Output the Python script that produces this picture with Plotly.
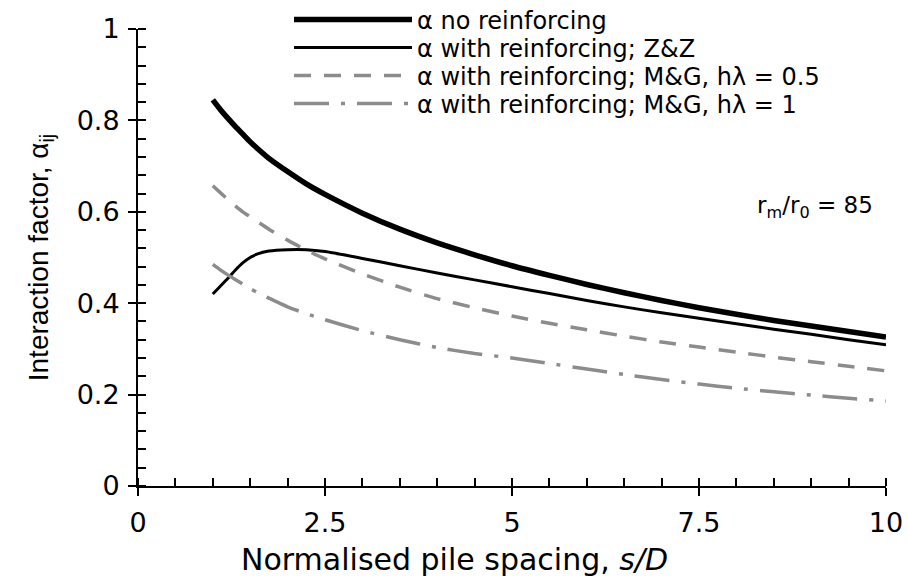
import plotly.graph_objects as go

# ---- data ----
s_over_d = [1, 1.1, 1.2, 1.3, 1.4, 1.5, 1.6, 1.75, 2, 2.25, 2.5, 3, 3.5, 4, 4.5, 5, 5.5, 6, 6.5, 7,
            7.5, 8, 8.5, 9, 9.5, 10]
alpha_no_reinf = [0.845, 0.824, 0.805, 0.787, 0.770, 0.753, 0.738, 0.717, 0.688, 0.661, 0.638, 0.597,
                  0.562, 0.532, 0.506, 0.482, 0.461, 0.441, 0.423, 0.406, 0.390, 0.376, 0.362, 0.350,
                  0.338, 0.326]
alpha_zz = [0.420, 0.437, 0.454, 0.472, 0.488, 0.500, 0.508, 0.514, 0.517, 0.517, 0.513, 0.498,
            0.482, 0.466, 0.451, 0.436, 0.421, 0.406, 0.392, 0.379, 0.367, 0.355, 0.343, 0.332,
            0.320, 0.309]
alpha_mg_05 = [0.657, 0.642, 0.627, 0.613, 0.600, 0.589, 0.578, 0.562, 0.538, 0.516, 0.497, 0.464,
               0.435, 0.410, 0.390, 0.372, 0.356, 0.342, 0.328, 0.315, 0.304, 0.293, 0.282, 0.272,
               0.262, 0.252]
alpha_mg_1 = [0.485, 0.473, 0.462, 0.452, 0.442, 0.432, 0.423, 0.411, 0.392, 0.377, 0.364, 0.340,
              0.320, 0.303, 0.290, 0.280, 0.268, 0.256, 0.244, 0.233, 0.223, 0.214, 0.206, 0.199,
              0.192, 0.186]

series_names = ["α no reinforcing",
                "α with reinforcing; Z&Z",
                "α with reinforcing; M&G, hλ = 0.5",
                "α with reinforcing; M&G, hλ = 1"]
x_ticks = [0, 2.5, 5, 7.5, 10]
x_tick_text = ["0", "2.5", "5", "7.5", "10"]
y_ticks = [0, 0.2, 0.4, 0.6, 0.8, 1]
y_tick_text = ["0", "0.2", "0.4", "0.6", "0.8", "1"]

# ---- styles ----
BLACK = "#000000"
GREY = "#8c8c8c"
FONT = "DejaVu Sans, Verdana, sans-serif"
YFONT = "Liberation Sans, Arial, sans-serif"

series_values = [alpha_no_reinf, alpha_zz, alpha_mg_05, alpha_mg_1]
line_styles = [
    dict(color=BLACK, width=5.5, dash="solid"),
    dict(color=BLACK, width=3, dash="solid"),
    dict(color=GREY, width=3.5, dash="17px,13px"),
    dict(color=GREY, width=3.5, dash="35px,12px,4px,12px"),
]
legend_ids = ["legend", "legend2", "legend3", "legend4"]
legend_rows_px = [20, 48, 76, 104]

fig = go.Figure()
for name, vals, ls, lid in zip(series_names, series_values, line_styles, legend_ids):
    fig.add_trace(go.Scatter(x=s_over_d, y=vals, mode="lines", name=name,
                             line=dict(shape="spline", smoothing=0.6, **ls),
                             legend=lid, showlegend=True, hoverinfo="skip"))

# helper subplot used only for the inner half of the crossing major ticks
fig.add_trace(go.Scatter(x=[], y=[], xaxis="x2", yaxis="y2", showlegend=False, hoverinfo="skip"))

W, H = 908, 580
L, R, T, B = 138, 22, 29, 94
plot_w = W - L - R
plot_h = H - T - B

legends = {}
for lid, row in zip(legend_ids, legend_rows_px):
    legends[lid] = dict(
        visible=True,
        x=(289 - L) / plot_w, xanchor="left",
        y=(H - B - row) / plot_h, yanchor="middle",
        font=dict(family=FONT, size=24, color=BLACK),
        bgcolor="rgba(0,0,0,0)", borderwidth=0,
        itemwidth=118, tracegroupgap=0,
    )

axis_common = dict(showgrid=False, zeroline=False, showline=True, linecolor=BLACK, linewidth=2,
                   ticks="outside", ticklen=8, tickwidth=2, tickcolor=BLACK,
                   tickfont=dict(family=FONT, size=27, color=BLACK))

fig.update_layout(
    width=W, height=H,
    showlegend=True,
    margin=dict(l=L, r=R, t=T, b=B, pad=0, autoexpand=False),
    paper_bgcolor="white", plot_bgcolor="white",
    xaxis=dict(range=[0, 10], tickvals=x_ticks, ticktext=x_tick_text,
               minor=dict(dtick=0.5, tick0=0, ticks="inside", ticklen=8, tickwidth=2, tickcolor=BLACK),
               ticklabelstandoff=4,
               **axis_common),
    yaxis=dict(range=[0, 1], tickvals=y_ticks, ticktext=y_tick_text,
               minor=dict(dtick=0.04, tick0=0, ticks="inside", ticklen=8, tickwidth=2, tickcolor=BLACK),
               ticklabelstandoff=3,
               title=dict(text="Interaction factor, α<sub>ij</sub>", standoff=20,
                          font=dict(family=YFONT, size=28, color=BLACK)),
               **axis_common),
    xaxis2=dict(range=[0, 10], overlaying="x", anchor="y2", tickvals=x_ticks, showticklabels=False,
                ticks="inside", ticklen=8, tickwidth=2, tickcolor=BLACK,
                showline=False, showgrid=False, zeroline=False),
    yaxis2=dict(range=[0, 1], overlaying="y", anchor="x2", tickvals=y_ticks, showticklabels=False,
                ticks="inside", ticklen=8, tickwidth=2, tickcolor=BLACK,
                showline=False, showgrid=False, zeroline=False),
    annotations=[
        dict(x=9.85, y=0.61, xref="x", yref="y", xanchor="right", yanchor="middle",
             text="r<sub>m</sub>/r<sub>0</sub> = 85", showarrow=False,
             font=dict(family=FONT, size=23, color=BLACK)),
        dict(x=(454 - L) / plot_w, y=-(559 - (H - B)) / plot_h, xref="paper", yref="paper",
             xanchor="center", yanchor="middle", showarrow=False,
             text="Normalised pile spacing, <i>s/D</i>",
             font=dict(family=FONT, size=30, color=BLACK)),
    ],
    **legends,
)

fig.write_html("out.html")
